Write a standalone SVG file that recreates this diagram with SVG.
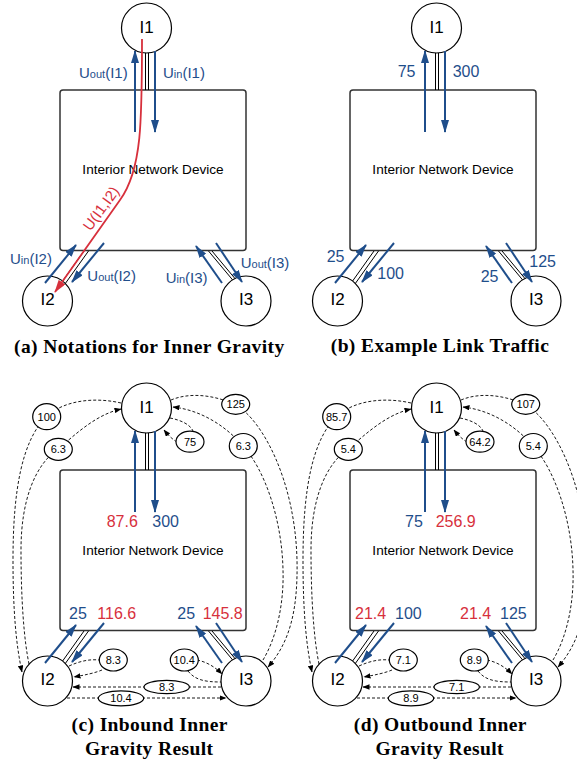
<svg xmlns="http://www.w3.org/2000/svg" width="577" height="764" viewBox="0 0 577 764">
<defs>
<style>
text{font-family:"Liberation Sans",Arial,sans-serif}
.cap{font-family:"Liberation Serif","Times New Roman",serif;font-weight:bold;font-size:19.5px;letter-spacing:0.4px;text-anchor:middle;fill:#000}
.nd circle{fill:#fff;stroke:#000;stroke-width:1.2}
.nd text{font-size:17px;text-anchor:middle}
.dev rect{fill:#fff;stroke:#333;stroke-width:1.5}
.dev text{font-size:13.6px;text-anchor:middle}
.lk{stroke:#000;stroke-width:1;fill:none}
.bl{stroke:#1f4e8b;stroke-width:2;fill:none;marker-end:url(#mb)}
.rd{stroke:#d7303c;stroke-width:1.8;fill:none;marker-end:url(#mr)}
.ds{stroke:#000;stroke-width:0.9;fill:none;stroke-dasharray:3 2}
.da{marker-end:url(#mk)}
.el ellipse{fill:#fff;stroke:#000;stroke-width:1.2}
.el text{font-size:11px;text-anchor:middle}
.tb{fill:#1f4e8b;font-size:16px}
.tr{fill:#d7303c;font-size:16px}
.tu{fill:#1f4e8b;font-size:15px}
.sub{font-size:11px}
</style>
<marker id="mb" markerUnits="userSpaceOnUse" viewBox="0 0 13 8" refX="12" refY="4" markerWidth="13" markerHeight="8" orient="auto"><path d="M0,0L13,4L0,8z" fill="#1f4e8b"/></marker>
<marker id="mr" markerUnits="userSpaceOnUse" viewBox="0 0 13 8" refX="12" refY="4" markerWidth="13" markerHeight="8" orient="auto"><path d="M0,0L13,4L0,8z" fill="#d7303c"/></marker>
<marker id="mk" markerUnits="userSpaceOnUse" viewBox="0 0 7 5.5" refX="6.5" refY="2.75" markerWidth="7" markerHeight="5.5" orient="auto"><path d="M0,0L7,2.75L0,5.5z" fill="#000"/></marker>
</defs>
<rect width="577" height="764" fill="#fff"/>

<!-- Panel (a) -->
<g id="panel-a">
<g id="a-device" class="dev"><rect x="60" y="90" width="186" height="160.5" rx="3"/><text x="153" y="174.3">Interior Network Device</text></g>
<g id="a-I1" class="nd"><circle cx="146.5" cy="28" r="25"/><text x="146.5" y="32.8">I1</text></g>
<g id="a-I2" class="nd"><circle cx="47.5" cy="301" r="25"/><text x="47.5" y="305.2">I2</text></g>
<g id="a-I3" class="nd"><circle cx="246" cy="301" r="25"/><text x="246" y="305.2">I3</text></g>
<g id="a-connectors">
<path class="lk" d="M145.5,53V90M148.5,53V90M84,251L62.6,281M88.5,251L65.3,283.5M208.5,251L232.6,279.9M212,251L235,278.6"/>
<path class="bl" d="M135,132V51"/>
<path class="bl" d="M155,51V132"/>
<path class="bl" d="M45,283L76,245"/>
<path class="bl" d="M104,243L72,282"/>
<path class="bl" d="M222,283L196,246"/>
<path class="bl" d="M216,243L242,282"/>
<path class="rd" d="M142,39C142,120 142,170 120,200L55,292"/>
</g>
<text class="tu" x="79" y="78">U<tspan class="sub">out</tspan>(I1)</text>
<text class="tu" x="163" y="78">U<tspan class="sub">in</tspan>(I1)</text>
<text class="tu" x="10" y="264.3">U<tspan class="sub">in</tspan>(I2)</text>
<text class="tu" x="87.3" y="280.7">U<tspan class="sub">out</tspan>(I2)</text>
<text class="tu" x="165.7" y="282.5">U<tspan class="sub">in</tspan>(I3)</text>
<text class="tu" x="240.7" y="268.3">U<tspan class="sub">out</tspan>(I3)</text>
<text x="90.6" y="231.7" fill="#d7303c" font-size="15" transform="rotate(-54 90.6 231.7)">U(I1,I2)</text>
<text class="cap" x="149.3" y="352.5">(a) Notations for Inner Gravity</text>
</g>

<!-- Panel (b) -->
<g id="panel-b" transform="translate(290,0)">
<g id="b-device" class="dev"><rect x="60" y="90" width="186" height="160.5" rx="3"/><text x="153" y="174.3">Interior Network Device</text></g>
<g id="b-I1" class="nd"><circle cx="146.5" cy="28" r="25"/><text x="146.5" y="32.8">I1</text></g>
<g id="b-I2" class="nd"><circle cx="47.5" cy="301" r="25"/><text x="47.5" y="305.2">I2</text></g>
<g id="b-I3" class="nd"><circle cx="246" cy="301" r="25"/><text x="246" y="305.2">I3</text></g>
<g id="b-connectors">
<path class="lk" d="M145.5,53V90M148.5,53V90M84,251L62.6,281M88.5,251L65.3,283.5M208.5,251L232.6,279.9M212,251L235,278.6"/>
<path class="bl" d="M135,132V51"/>
<path class="bl" d="M155,51V132"/>
<path class="bl" d="M45,283L76,245"/>
<path class="bl" d="M104,243L72,282"/>
<path class="bl" d="M222,283L196,246"/>
<path class="bl" d="M216,243L242,282"/>
</g>
<text class="tb" x="107.7" y="77.3">75</text>
<text class="tb" x="162.7" y="77.3">300</text>
<text class="tb" x="36.7" y="262.3">25</text>
<text class="tb" x="87.3" y="279.3">100</text>
<text class="tb" x="190.7" y="281.7">25</text>
<text class="tb" x="239.3" y="267.3">125</text>
<text class="cap" x="150" y="351.7">(b) Example Link Traffic</text>
</g>

<!-- Panel (c) -->
<g id="panel-c" transform="translate(0,380)">
<g id="c-device" class="dev"><rect x="60" y="90" width="186" height="160.5" rx="3"/><text x="153" y="174.8">Interior Network Device</text></g>
<g id="c-I1" class="nd"><circle cx="146.5" cy="28" r="25"/><text x="146.5" y="32.8">I1</text></g>
<g id="c-I2" class="nd"><circle cx="47.5" cy="301" r="25"/><text x="47.5" y="305.2">I2</text></g>
<g id="c-I3" class="nd"><circle cx="246" cy="301" r="25"/><text x="246" y="305.2">I3</text></g>
<g id="c-connectors">
<path class="lk" d="M145.5,53V90M148.5,53V90M84,251L62.6,281M88.5,251L65.3,283.5M208.5,251L232.6,279.9M212,251L235,278.6"/>
<path class="bl" d="M135,132V51"/>
<path class="bl" d="M155,51V132"/>
<path class="bl" d="M45,283L76,245"/>
<path class="bl" d="M104,243L72,282"/>
<path class="bl" d="M222,283L196,246"/>
<path class="bl" d="M216,243L242,282"/>
<path class="ds da" d="M121,23C95,17 65,20 47,36C22,60 13,110 13,180C13,230 16,265 22,292"/>
<path class="ds da" d="M29,284C24,260 21,220 21,170C21,120 35,85 58,69C75,55 95,35 121,29"/>
<path class="ds da" d="M171,20C190,12 215,15 236,25C262,40 295,100 297,180C298,230 290,262 268,287"/>
<path class="ds da" d="M263,280C278,255 284,220 283,190C282,140 265,90 243,66C225,45 200,30 173,27"/>
<path class="ds" d="M170,38C180,40 190,44 193,51"/>
<path class="ds da" d="M177,62C172,59 168,55 164,50"/>
<path class="ds" d="M69,286C80,281 90,279 99,280"/>
<path class="ds da" d="M102,290C95,293 85,295 74,297"/>
<path class="ds da" d="M197,280C207,282 215,287 222,294"/>
<path class="ds" d="M188,291C195,300 205,302 221,302"/>
<path class="ds da" d="M221,307H73"/>
<path class="ds da" d="M67,318H226"/>
<g class="el"><ellipse cx="46.7" cy="36.7" rx="14" ry="13"/><text x="46.7" y="40.6">100</text></g>
<g class="el"><ellipse cx="58.3" cy="69.3" rx="14" ry="11"/><text x="58.3" y="73.2">6.3</text></g>
<g class="el"><ellipse cx="190" cy="61.7" rx="14" ry="10.5"/><text x="190" y="65.6">75</text></g>
<g class="el"><ellipse cx="235.7" cy="24.3" rx="14" ry="10"/><text x="235.7" y="28.2">125</text></g>
<g class="el"><ellipse cx="243.3" cy="66" rx="14" ry="12.5"/><text x="243.3" y="69.9">6.3</text></g>
<g class="el"><ellipse cx="113.3" cy="280" rx="14" ry="11"/><text x="113.3" y="283.9">8.3</text></g>
<g class="el"><ellipse cx="184.3" cy="280" rx="14" ry="11"/><text x="184.3" y="283.9">10.4</text></g>
<g class="el"><ellipse cx="166.7" cy="307" rx="22.7" ry="6.7"/><text x="166.7" y="310.9">8.3</text></g>
<g class="el"><ellipse cx="121" cy="318.3" rx="22.7" ry="7.5"/><text x="121" y="322.2">10.4</text></g>
</g>
<text class="tr" x="106.7" y="147.3">87.6</text>
<text class="tb" x="152.3" y="147.3">300</text>
<text class="tb" x="69" y="239.3">25</text>
<text class="tr" x="97.3" y="239.3">116.6</text>
<text class="tb" x="177.3" y="239.3">25</text>
<text class="tr" x="202.7" y="239.3">145.8</text>
<text class="cap" x="149.7" y="350.7">(c) Inbound Inner</text>
<text class="cap" x="149.2" y="375">Gravity Result</text>
</g>

<!-- Panel (d) -->
<g id="panel-d" transform="translate(290,380)">
<g id="d-device" class="dev"><rect x="60" y="90" width="186" height="160.5" rx="3"/><text x="153" y="174.8">Interior Network Device</text></g>
<g id="d-I1" class="nd"><circle cx="146.5" cy="28" r="25"/><text x="146.5" y="32.8">I1</text></g>
<g id="d-I2" class="nd"><circle cx="47.5" cy="301" r="25"/><text x="47.5" y="305.2">I2</text></g>
<g id="d-I3" class="nd"><circle cx="246" cy="301" r="25"/><text x="246" y="305.2">I3</text></g>
<g id="d-connectors">
<path class="lk" d="M145.5,53V90M148.5,53V90M84,251L62.6,281M88.5,251L65.3,283.5M208.5,251L232.6,279.9M212,251L235,278.6"/>
<path class="bl" d="M135,132V51"/>
<path class="bl" d="M155,51V132"/>
<path class="bl" d="M45,283L76,245"/>
<path class="bl" d="M104,243L72,282"/>
<path class="bl" d="M222,283L196,246"/>
<path class="bl" d="M216,243L242,282"/>
<path class="ds da" d="M121,23C95,17 65,20 47,36C22,60 13,110 13,180C13,230 16,265 22,292"/>
<path class="ds da" d="M29,284C24,260 21,220 21,170C21,120 35,85 58,69C75,55 95,35 121,29"/>
<path class="ds da" d="M171,20C190,12 215,15 236,25C262,40 295,100 297,180C298,230 290,262 268,287"/>
<path class="ds da" d="M263,280C278,255 284,220 283,190C282,140 265,90 243,66C225,45 200,30 173,27"/>
<path class="ds" d="M170,38C180,40 190,44 193,51"/>
<path class="ds da" d="M177,62C172,59 168,55 164,50"/>
<path class="ds" d="M69,286C80,281 90,279 99,280"/>
<path class="ds da" d="M102,290C95,293 85,295 74,297"/>
<path class="ds da" d="M197,280C207,282 215,287 222,294"/>
<path class="ds" d="M188,291C195,300 205,302 221,302"/>
<path class="ds da" d="M221,307H73"/>
<path class="ds da" d="M67,318H226"/>
<g class="el"><ellipse cx="46.7" cy="36.7" rx="14" ry="13"/><text x="46.7" y="40.6">85.7</text></g>
<g class="el"><ellipse cx="58.3" cy="69.3" rx="14" ry="11"/><text x="58.3" y="73.2">5.4</text></g>
<g class="el"><ellipse cx="190" cy="61.7" rx="14" ry="10.5"/><text x="190" y="65.6">64.2</text></g>
<g class="el"><ellipse cx="235.7" cy="24.3" rx="14" ry="10"/><text x="235.7" y="28.2">107</text></g>
<g class="el"><ellipse cx="243.3" cy="66" rx="14" ry="12.5"/><text x="243.3" y="69.9">5.4</text></g>
<g class="el"><ellipse cx="113.3" cy="280" rx="14" ry="11"/><text x="113.3" y="283.9">7.1</text></g>
<g class="el"><ellipse cx="184.3" cy="280" rx="14" ry="11"/><text x="184.3" y="283.9">8.9</text></g>
<g class="el"><ellipse cx="166.7" cy="307" rx="22.7" ry="6.7"/><text x="166.7" y="310.9">7.1</text></g>
<g class="el"><ellipse cx="121" cy="318.3" rx="22.7" ry="7.5"/><text x="121" y="322.2">8.9</text></g>
</g>
<text class="tb" x="115" y="147.3">75</text>
<text class="tr" x="145.7" y="147.3">256.9</text>
<text class="tr" x="65" y="239.3">21.4</text>
<text class="tb" x="105" y="239.3">100</text>
<text class="tr" x="170" y="239.3">21.4</text>
<text class="tb" x="210" y="239.3">125</text>
<text class="cap" x="150.3" y="350.7">(d) Outbound Inner</text>
<text class="cap" x="149.7" y="375">Gravity Result</text>
</g>
</svg>
